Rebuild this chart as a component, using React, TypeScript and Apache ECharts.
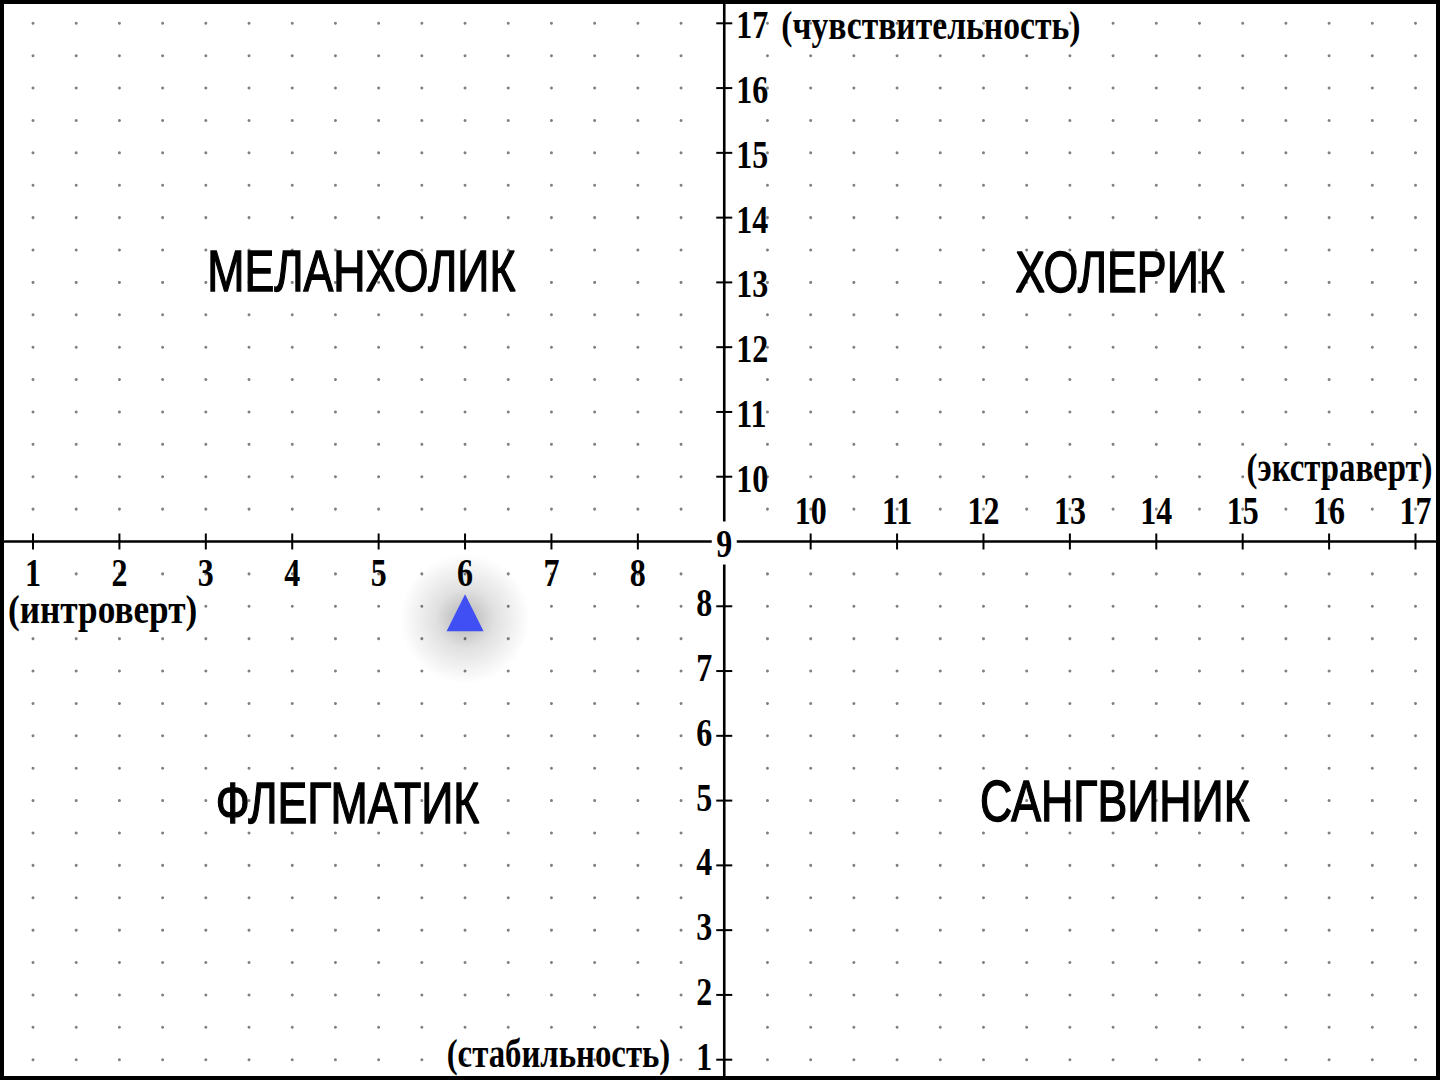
import React, { useEffect, useRef } from "react";
import * as echarts from "echarts";

// ---- data ----
const ORIGIN = 9;
const X_LOW_TICKS = [1, 2, 3, 4, 5, 6, 7, 8];
const X_HIGH_TICKS = [10, 11, 12, 13, 14, 15, 16, 17];
const Y_LOW_TICKS = [1, 2, 3, 4, 5, 6, 7, 8];
const Y_HIGH_TICKS = [10, 11, 12, 13, 14, 15, 16, 17];

const NAME_TOP = "(чувствительность)";
const NAME_RIGHT = "(экстраверт)";
const NAME_LEFT = "(интроверт)";
const NAME_BOTTOM = "(стабильность)";

const QUADRANT_NAMES = ["МЕЛАНХОЛИК", "ХОЛЕРИК", "ФЛЕГМАТИК", "САНГВИНИК"];
const QUADRANT_X = [4.8, 13.58, 4.64, 13.52];
const QUADRANT_Y = [13.18, 13.17, 4.97, 5.0];

const RESULT_POINT = [6, 7.9];

// axis extents (value range visible inside the frame)
const X_MIN = 0.618;
const X_MAX = 17.2835;
const Y_MIN = 0.6866;
const Y_MAX = 17.3597;
const DOT_STEP = 0.5;

const SERIF = "'Liberation Serif', 'Times New Roman', serif";
const SANS = "'Liberation Sans', Arial, sans-serif";

type TextCfg = {
  dx?: number;
  dy?: number;
  align?: string;
  va?: string;
  size?: number;
  family?: string;
  weight?: string;
  scaleX?: number;
  lineHeight?: number;
  strokeWidth?: number;
  z?: number;
};

function textSeries(id: string, pts: number[][], texts: string[], cfg: TextCfg) {
  return {
    type: "custom",
    id,
    coordinateSystem: "cartesian2d",
    silent: true,
    z: cfg.z ?? 5,
    data: pts,
    renderItem: (params: any, api: any) => {
      const c = api.coord([api.value(0), api.value(1)]);
      const style: any = {
        text: texts[params.dataIndex],
        fill: "#000",
        fontSize: cfg.size ?? 41,
        fontFamily: cfg.family ?? SERIF,
        fontWeight: cfg.weight ?? "bold",
        align: cfg.align ?? "center",
        verticalAlign: cfg.va ?? "middle",
        lineHeight: cfg.lineHeight ?? 30,
      };
      if (cfg.strokeWidth) {
        style.stroke = "#000";
        style.lineWidth = cfg.strokeWidth;
      }
      return {
        type: "text",
        x: c[0] + (cfg.dx ?? 0),
        y: c[1] + (cfg.dy ?? 0),
        scaleX: cfg.scaleX ?? 1,
        style,
      };
    },
  };
}

export default function App() {
  const ref = useRef<HTMLDivElement>(null);

  useEffect(() => {
    if (!ref.current) return;
    const chart = echarts.init(ref.current, undefined, { renderer: "svg" });

    const dots: number[][] = [];
    for (let x = 1; x <= 17; x += DOT_STEP) {
      for (let y = 1; y <= 17; y += DOT_STEP) {
        if (x === ORIGIN || y === ORIGIN) continue;
        dots.push([x, y]);
      }
    }

    const allXTicks = [...X_LOW_TICKS, ...X_HIGH_TICKS];
    const allYTicks = [...Y_LOW_TICKS, ...Y_HIGH_TICKS];
    const TICK_SCALE = 0.78;

    const option: any = {
      animation: false,
      backgroundColor: "#fff",
      grid: { left: 0, right: 0, top: 0, bottom: 0, containLabel: false },
      xAxis: { type: "value", min: X_MIN, max: X_MAX, show: false },
      yAxis: { type: "value", min: Y_MIN, max: Y_MAX, show: false },
      graphic: [
        {
          type: "rect",
          z: 100,
          silent: true,
          shape: { x: 2, y: 2, width: 1436, height: 1076 },
          style: { fill: "none", stroke: "#000", lineWidth: 4 },
        },
      ],
      series: [
        {
          type: "scatter",
          id: "dots",
          silent: true,
          z: 1,
          symbol: "circle",
          symbolSize: 3,
          itemStyle: { color: "#808080", opacity: 1 },
          data: dots,
        },
        {
          type: "custom",
          id: "axes",
          coordinateSystem: "cartesian2d",
          silent: true,
          z: 2,
          data: [[ORIGIN, ORIGIN]],
          renderItem: (params: any, api: any) => {
            const c = api.coord([api.value(0), api.value(1)]);
            const cs = params.coordSys;
            return {
              type: "group",
              children: [
                {
                  type: "line",
                  shape: { x1: cs.x, y1: c[1], x2: cs.x + cs.width, y2: c[1] },
                  style: { stroke: "#000", lineWidth: 2.6 },
                },
                {
                  type: "line",
                  shape: { x1: c[0], y1: cs.y, x2: c[0], y2: cs.y + cs.height },
                  style: { stroke: "#000", lineWidth: 2.6 },
                },
              ],
            };
          },
        },
        {
          type: "custom",
          id: "xticks",
          coordinateSystem: "cartesian2d",
          silent: true,
          z: 3,
          data: allXTicks.map((v) => [v, ORIGIN]),
          renderItem: (params: any, api: any) => {
            const c = api.coord([api.value(0), api.value(1)]);
            return {
              type: "line",
              shape: { x1: c[0], y1: c[1] - 8, x2: c[0], y2: c[1] + 8 },
              style: { stroke: "#000", lineWidth: 2 },
            };
          },
        },
        {
          type: "custom",
          id: "yticks",
          coordinateSystem: "cartesian2d",
          silent: true,
          z: 3,
          data: allYTicks.map((v) => [ORIGIN, v]),
          renderItem: (params: any, api: any) => {
            const c = api.coord([api.value(0), api.value(1)]);
            return {
              type: "line",
              shape: { x1: c[0] - 8, y1: c[1], x2: c[0] + 8, y2: c[1] },
              style: { stroke: "#000", lineWidth: 2 },
            };
          },
        },
        textSeries(
          "xLowLabels",
          X_LOW_TICKS.map((v) => [v, ORIGIN]),
          X_LOW_TICKS.map(String),
          { dy: 31, scaleX: TICK_SCALE }
        ),
        textSeries(
          "xHighLabels",
          X_HIGH_TICKS.map((v) => [v, ORIGIN]),
          X_HIGH_TICKS.map(String),
          { dy: -31, scaleX: TICK_SCALE }
        ),
        textSeries(
          "yHighLabels",
          Y_HIGH_TICKS.map((v) => [ORIGIN, v]),
          Y_HIGH_TICKS.map(String),
          { dx: 12, dy: 1, align: "left", scaleX: TICK_SCALE }
        ),
        textSeries(
          "yLowLabels",
          Y_LOW_TICKS.map((v) => [ORIGIN, v]),
          Y_LOW_TICKS.map(String),
          { dx: -12, dy: -4, align: "right", scaleX: TICK_SCALE, lineHeight: 22 }
        ),
        {
          type: "custom",
          id: "originLabel",
          coordinateSystem: "cartesian2d",
          silent: true,
          z: 6,
          data: [[ORIGIN, ORIGIN]],
          renderItem: (params: any, api: any) => {
            const c = api.coord([api.value(0), api.value(1)]);
            return {
              type: "group",
              children: [
                {
                  type: "rect",
                  shape: { x: c[0] - 12.5, y: c[1] - 20, width: 25, height: 43 },
                  style: { fill: "#fff" },
                },
                {
                  type: "text",
                  x: c[0],
                  y: c[1] + 2,
                  scaleX: TICK_SCALE,
                  style: {
                    text: String(ORIGIN),
                    fill: "#000",
                    fontSize: 41,
                    fontFamily: SERIF,
                    fontWeight: "bold",
                    align: "center",
                    verticalAlign: "middle",
                    lineHeight: 30,
                  },
                },
              ],
            };
          },
        },
        textSeries("nameTop", [[ORIGIN, 17]], [NAME_TOP], {
          dx: 57,
          dy: 2,
          align: "left",
          scaleX: 0.82,
        }),
        textSeries("nameRight", [[17, ORIGIN]], [NAME_RIGHT], {
          dx: 17,
          dy: -74,
          align: "right",
          scaleX: 0.8,
        }),
        textSeries("nameLeft", [[1, ORIGIN]], [NAME_LEFT], {
          dx: -25,
          dy: 68,
          align: "left",
          scaleX: 0.86,
        }),
        textSeries("nameBottom", [[ORIGIN, 1]], [NAME_BOTTOM], {
          dx: -54,
          dy: -7,
          align: "right",
          scaleX: 0.8,
        }),
        textSeries(
          "quadrants",
          QUADRANT_X.map((x, i) => [x, QUADRANT_Y[i]]),
          QUADRANT_NAMES,
          {
            size: 58,
            family: SANS,
            weight: "normal",
            scaleX: 0.77,
            lineHeight: 60,
            strokeWidth: 1.4,
          }
        ),
        {
          type: "scatter",
          id: "resultGlow",
          silent: true,
          z: 9,
          symbol: "circle",
          symbolSize: 130,
          symbolOffset: [0, 6],
          itemStyle: {
            opacity: 1,
            color: new echarts.graphic.RadialGradient(0.5, 0.5, 0.5, [
              { offset: 0, color: "rgba(0,0,0,0.30)" },
              { offset: 0.45, color: "rgba(0,0,0,0.12)" },
              { offset: 1, color: "rgba(0,0,0,0)" },
            ]),
          },
          data: [RESULT_POINT],
        },
        {
          type: "scatter",
          id: "result",
          silent: true,
          z: 10,
          symbol: "triangle",
          symbolSize: [37, 37],
          itemStyle: {
            color: "#3f4ff4",
            opacity: 1,
          },
          data: [RESULT_POINT],
        },
      ],
    };

    chart.setOption(option);
    return () => chart.dispose();
  }, []);

  return (
    <div
      ref={ref}
      style={{
        position: "fixed",
        left: 0,
        top: 0,
        width: 1440,
        height: 1080,
        background: "#fff",
      }}
    />
  );
}
